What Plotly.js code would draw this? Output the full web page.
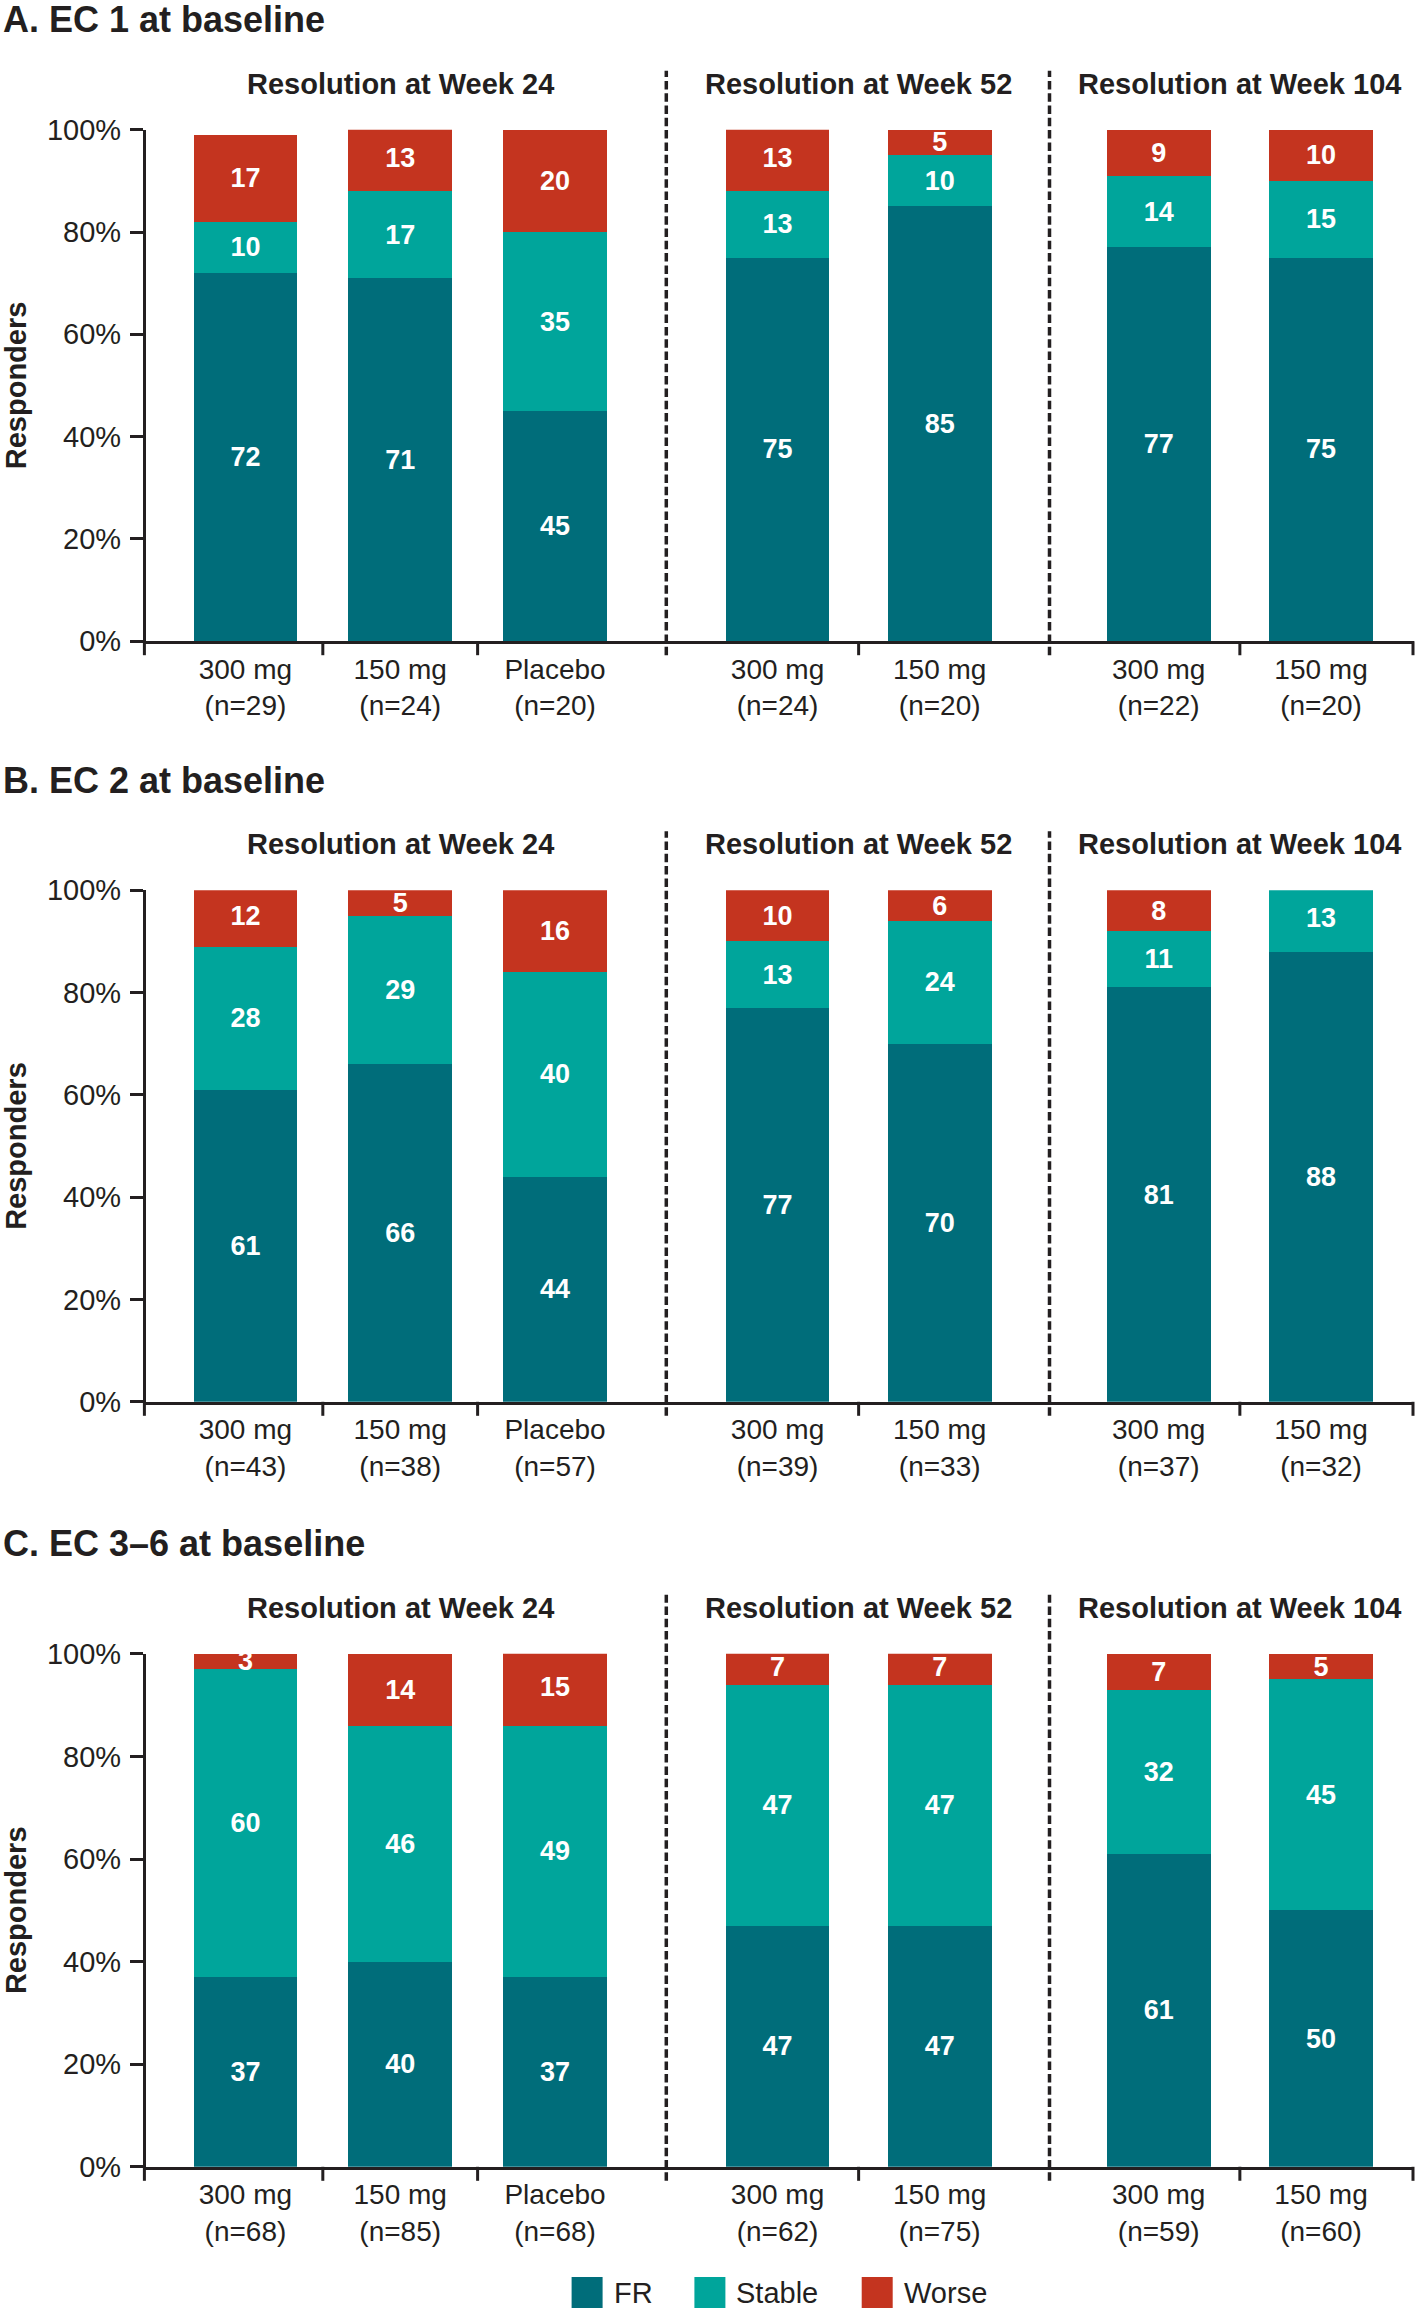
<!DOCTYPE html>
<html>
<head>
<meta charset="utf-8">
<script src="https://cdn.plot.ly/plotly-3.0.1.min.js"></script>
<style>html,body{margin:0;padding:0;background:#fff;}</style>
</head>
<body>
<div id="chart" style="width:1418px;height:2311px;"></div>
<script>
// ---------------- DATA ----------------
const panelTitles = ['A. EC 1 at baseline', 'B. EC 2 at baseline', 'C. EC 3\u20136 at baseline'];
const groupTitles = ['Resolution at Week 24', 'Resolution at Week 52', 'Resolution at Week 104'];
const groupDoses = [['300 mg', '150 mg', 'Placebo'], ['300 mg', '150 mg'], ['300 mg', '150 mg']];
const seriesNames = ['FR', 'Stable', 'Worse'];

// n per group (Week 24, Week 52, Week 104)
const nA = [[29, 24, 20], [24, 20], [22, 20]];
const nB = [[43, 38, 57], [39, 33], [37, 32]];
const nC = [[68, 85, 68], [62, 75], [59, 60]];

// Panel A: EC 1 at baseline (%)
const frA     = [[72, 71, 45], [75, 85], [77, 75]];
const stableA = [[10, 17, 35], [13, 10], [14, 15]];
const worseA  = [[17, 13, 20], [13, 5], [9, 10]];

// Panel B: EC 2 at baseline (%)
const frB     = [[61, 66, 44], [77, 70], [81, 88]];
const stableB = [[28, 29, 40], [13, 24], [11, 13]];
const worseB  = [[12, 5, 16], [10, 6], [8, null]];

// Panel C: EC 3-6 at baseline (%)
const frC     = [[37, 40, 37], [47, 47], [61, 50]];
const stableC = [[60, 46, 49], [47, 47], [32, 45]];
const worseC  = [[3, 14, 15], [7, 7], [7, 5]];

const yTickVals = [0, 20, 40, 60, 80, 100];
const yTickText = ['0%', '20%', '40%', '60%', '80%', '100%'];

// ---------------- STYLE / LAYOUT ----------------
const seriesColors = ['#006D7A', '#00A59B', '#C4341F'];
const ink = '#231F20';
const FONT = 'Liberation Sans, Arial, Helvetica, sans-serif';
const W = 1418, H = 2311;
const px = v => v / W;
const py = v => 1 - v / H;

const rowTop = [129.7, 890.3, 1653.8];
const rowBottom = [641.2, 1401.8, 2166.8];
const groupEdges = [145.9, 666.3, 1049.5, 1414.0];
const groupRanges = [[-0.643, 2.719], [-0.686, 1.677], [-0.673, 1.573]];
const barWidths = [0.67, 0.64, 0.64];

const panels = [
  {n: nA, series: [frA, stableA, worseA]},
  {n: nB, series: [frB, stableB, worseB]},
  {n: nC, series: [frC, stableC, worseC]}
];

const traces = [];
const layout = {
  width: W, height: H,
  margin: {l: 0, r: 0, t: 0, b: 0},
  paper_bgcolor: '#fff', plot_bgcolor: 'rgba(0,0,0,0)',
  barmode: 'stack',
  showlegend: false,
  font: {family: FONT, color: ink, size: 28},
  shapes: [], annotations: []
};

const axId = (r, g) => r * 3 + g + 1;
const xName = k => k === 1 ? 'x' : 'x' + k;
const xKey = k => k === 1 ? 'xaxis' : 'xaxis' + k;
const yName = r => r === 0 ? 'y' : 'y' + (r + 1);
const yKey = r => r === 0 ? 'yaxis' : 'yaxis' + (r + 1);

panels.forEach((p, r) => {
  const yb = rowBottom[r], yt = rowTop[r];
  for (let g = 0; g < 3; g++) {
    const k = axId(r, g);
    const cats = groupDoses[g].map((d, i) => d + '<br>(n=' + p.n[g][i] + ')');
    p.series.forEach((vals, s) => {
      traces.push({
        type: 'bar',
        name: seriesNames[s],
        x: cats,
        y: vals[g],
        text: vals[g].map(v => v == null ? '' : String(v)),
        textposition: 'inside',
        insidetextanchor: 'middle',
        textangle: 0,
        constraintext: 'none',
        textfont: {family: FONT, size: 27, color: '#ffffff', weight: 'bold'},
        marker: {color: seriesColors[s], line: {width: 0}},
        width: barWidths[g],
        xaxis: xName(k),
        yaxis: yName(r),
        hoverinfo: 'skip'
      });
    });
    layout[xKey(k)] = {
      domain: [px(groupEdges[g]), px(groupEdges[g + 1])],
      anchor: yName(r),
      type: 'category',
      range: groupRanges[g],
      showline: true, linewidth: 3, linecolor: ink,
      ticks: '', showgrid: false, zeroline: false,
      tickfont: {family: FONT, size: 28, color: ink},
      ticklabelstandoff: 1,
      fixedrange: true
    };
    // inner boundary ticks
    for (let b = 0; b < groupDoses[g].length - 1; b++) {
      layout.shapes.push({
        type: 'line', xref: xName(k), yref: 'paper',
        x0: b + 0.5, x1: b + 0.5, y0: py(yb), y1: py(yb + 14),
        line: {color: ink, width: 3}
      });
    }
    // group title
    layout.annotations.push({
      xref: xName(k), yref: 'paper',
      x: (groupDoses[g].length - 1) / 2, y: py(yt - 46),
      text: '<b>' + groupTitles[g] + '</b>', showarrow: false,
      xanchor: 'center', yanchor: 'middle',
      font: {family: FONT, size: 29, color: ink}
    });
  }
  layout[yKey(r)] = {
    domain: [py(yb), py(yt)],
    anchor: xName(axId(r, 0)),
    range: [0, 100],
    tickmode: 'array',
    tickvals: yTickVals,
    ticktext: yTickText,
    ticks: 'outside', ticklen: 13, tickwidth: 3, tickcolor: ink,
    showline: true, linewidth: 3, linecolor: ink,
    showgrid: false, zeroline: false,
    tickfont: {family: FONT, size: 29, color: ink},
    ticklabelstandoff: 3,
    title: {text: '<b>Responders</b>', font: {family: FONT, size: 29, color: ink}, standoff: 12},
    fixedrange: true
  };
  // dashed separators between groups
  [1, 2].forEach(b => {
    layout.shapes.push({
      type: 'line', xref: 'paper', yref: 'paper',
      x0: px(groupEdges[b]), x1: px(groupEdges[b]),
      y0: py(yb + 14), y1: py(yt - 59),
      line: {color: ink, width: 3.5, dash: '8.5px,3.8px'}
    });
  });
  // outer ticks: y-axis extension and right end
  layout.shapes.push({
    type: 'line', xref: 'paper', yref: 'paper',
    x0: px(groupEdges[0] - 1.5), x1: px(groupEdges[0] - 1.5), y0: py(yb), y1: py(yb + 14),
    line: {color: ink, width: 3}
  });
  layout.shapes.push({
    type: 'line', xref: 'paper', yref: 'paper',
    x0: px(groupEdges[3] - 1), x1: px(groupEdges[3] - 1), y0: py(yb), y1: py(yb + 14),
    line: {color: ink, width: 3}
  });
  // panel title
  layout.annotations.push({
    xref: 'paper', yref: 'paper', x: px(1), y: py(yt - 110),
    text: '<b>' + panelTitles[r] + '</b>', showarrow: false,
    xanchor: 'left', yanchor: 'middle',
    font: {family: FONT, size: 36, color: ink}
  });
});

// legend (swatches + labels)
const legendSwatchX = [571.6, 694.4, 861.7];
const legendY = 2292.5;
seriesNames.forEach((nm, s) => {
  layout.shapes.push({
    type: 'rect', xref: 'paper', yref: 'paper',
    x0: px(legendSwatchX[s]), x1: px(legendSwatchX[s] + 31),
    y0: py(legendY + 15.5), y1: py(legendY - 15.5),
    fillcolor: seriesColors[s], line: {width: 0}
  });
  layout.annotations.push({
    xref: 'paper', yref: 'paper', x: px(legendSwatchX[s] + 40), y: py(legendY),
    text: nm, showarrow: false, xanchor: 'left', yanchor: 'middle',
    font: {family: FONT, size: 29, color: ink}
  });
});

Plotly.newPlot('chart', traces, layout, {staticPlot: true, displayModeBar: false});
</script>
</body>
</html>
